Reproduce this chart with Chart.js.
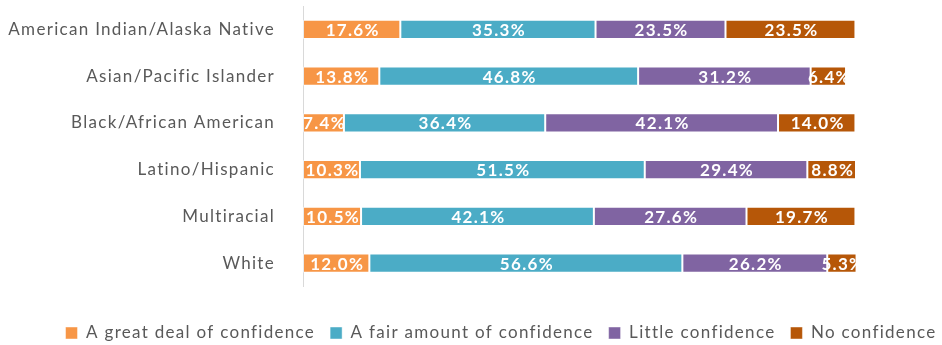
<!DOCTYPE html>
<html>
<head>
<meta charset="utf-8">
<script src="https://cdn.jsdelivr.net/npm/chart.js@4/dist/chart.umd.min.js"></script>
<style>
  html, body { margin: 0; padding: 0; background: #ffffff; }
  #wrap { width: 942px; height: 345px; }
</style>
</head>
<body>
<div id="wrap"><canvas id="chart" width="942" height="345"></canvas></div>
<script>
// Confidence levels by race/ethnicity (percent of respondents)
const categories = [
  'American Indian/Alaska Native',
  'Asian/Pacific Islander',
  'Black/African American',
  'Latino/Hispanic',
  'Multiracial',
  'White'
];
const seriesNames = [
  'A great deal of confidence',
  'A fair amount of confidence',
  'Little confidence',
  'No confidence'
];
const greatDeal  = [17.6, 13.8, 7.4, 10.3, 10.5, 12.0];
const fairAmount = [35.3, 46.8, 36.4, 51.5, 42.1, 56.6];
const little     = [23.5, 31.2, 42.1, 29.4, 27.6, 26.2];
const noConf     = [23.5, 6.4, 14.0, 8.8, 19.7, 5.3];
const seriesColors = ['#F79646', '#4BACC6', '#8064A2', '#B65708'];

const FONT = 'Lato';
const FONT_SIZE = 17;
const SPACING = '1.3px';

// Slightly spaced lettering for all canvas text
const letterSpacingPlugin = {
  id: 'letterSpacing',
  beforeUpdate(chart) { chart.ctx.letterSpacing = SPACING; },
  beforeDraw(chart) { chart.ctx.letterSpacing = SPACING; }
};

// Percent labels centred inside each bar segment
const segmentLabels = {
  id: 'segmentLabels',
  afterDatasetsDraw(chart) {
    const ctx = chart.ctx;
    ctx.save();
    ctx.font = 'bold ' + FONT_SIZE + 'px ' + FONT;
    ctx.fillStyle = '#ffffff';
    ctx.textAlign = 'center';
    ctx.textBaseline = 'middle';
    chart.data.datasets.forEach((ds, di) => {
      const meta = chart.getDatasetMeta(di);
      meta.data.forEach((bar, i) => {
        const v = ds.data[i];
        const cx = (bar.x + bar.base) / 2;
        ctx.fillText(v.toFixed(1) + '%', cx + 1, bar.y + 1);
      });
    });
    ctx.restore();
  }
};

// Place the legend row under the plot
const legendOffset = {
  id: 'legendOffset',
  afterLayout(chart) {
    const lg = chart.legend;
    const dx = 30, dy = 23;
    lg.left += dx; lg.right += dx;
    lg.top += dy; lg.bottom += dy;
  }
};

const datasets = [greatDeal, fairAmount, little, noConf].map((vals, k) => ({
  label: seriesNames[k],
  data: vals,
  backgroundColor: seriesColors[k],
  borderColor: 'rgba(255,255,255,0.45)',
  borderWidth: 1,
  borderSkipped: false,
  barPercentage: 0.415,
  categoryPercentage: 1.0
}));

new Chart(document.getElementById('chart'), {
  type: 'bar',
  data: { labels: categories, datasets },
  plugins: [letterSpacingPlugin, segmentLabels, legendOffset],
  options: {
    indexAxis: 'y',
    responsive: false,
    animation: false,
    events: [],
    layout: { padding: { top: 6, bottom: 16.5, left: 0, right: 0 } },
    scales: {
      x: {
        stacked: true,
        min: 0,
        max: 100,
        display: false
      },
      y: {
        stacked: true,
        grid: { display: false },
        border: { display: true, color: '#d9d9d9', width: 1 },
        ticks: {
          color: '#595959',
          font: { family: FONT, size: FONT_SIZE },
          padding: 20
        },
        afterFit(scale) {
          scale.width = 303;
          scale.paddingTop = 0;
          scale.paddingBottom = 0;
        }
      },
      yRight: {
        type: 'linear',
        position: 'right',
        display: true,
        grid: { display: false },
        border: { display: false },
        ticks: { display: false },
        afterFit(scale) { scale.width = 86; }
      }
    },
    plugins: {
      tooltip: { enabled: false },
      legend: {
        position: 'bottom',
        align: 'center',
        labels: {
          color: '#595959',
          font: { family: FONT, size: FONT_SIZE },
          boxWidth: 12,
          boxHeight: 12,
          padding: 15
        }
      }
    }
  }
});
</script>
</body>
</html>
